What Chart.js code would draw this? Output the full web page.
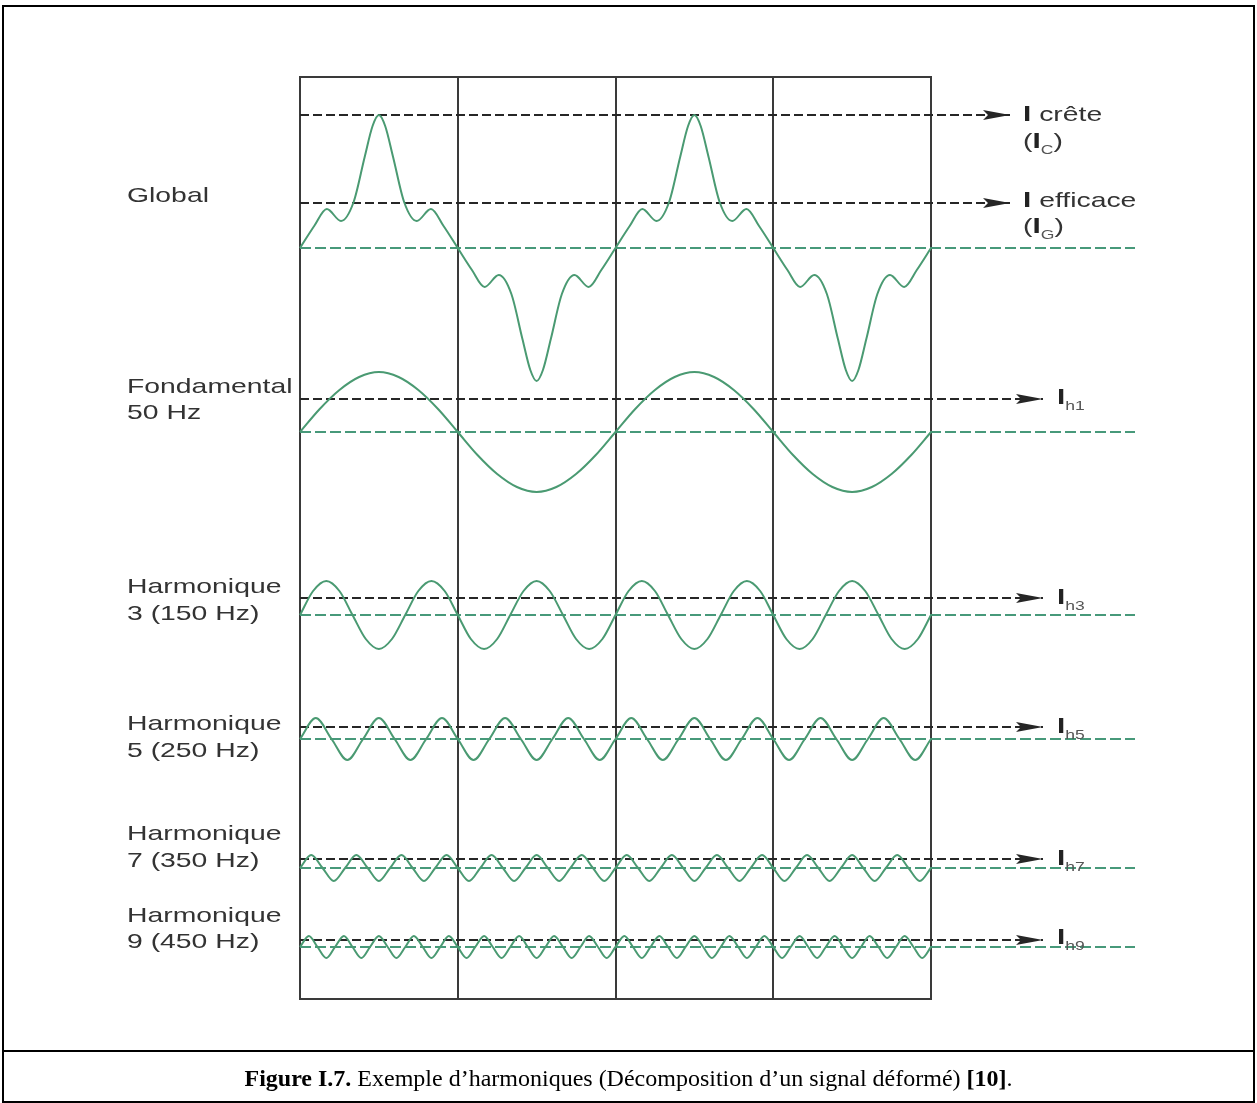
<!DOCTYPE html>
<html lang="fr">
<head>
<meta charset="utf-8">
<title>Figure I.7 – Exemple d’harmoniques</title>
<script src="https://cdn.jsdelivr.net/npm/chart.js@4.4.1/dist/chart.umd.min.js"></script>
<style>
  html, body { margin: 0; padding: 0; background: #fff; }
  #page { position: relative; width: 1257px; height: 1103px; overflow: hidden; }
  #graphique { position: absolute; left: 0; top: 0; }
  .bordure { position: absolute; left: 2px; top: 5px; width: 1253px; height: 1098px; border: 2px solid #000; box-sizing: border-box; }
  .separation { position: absolute; left: 2px; top: 1050px; width: 1253px; height: 2px; background: #000; }
  .etiquette { position: absolute; font-family: "Liberation Sans", Arial, Helvetica, sans-serif; font-size: 21px; line-height: 21px; color: #333; white-space: nowrap; transform: scaleX(1.35); transform-origin: 0 0; }
  .etiquette b { font-size: 22px; color: #222; }
  .etiquette sub { font-size: 13px; vertical-align: -6px; line-height: 0; color: #555; }
  .legende { position: absolute; left: 0; width: 1257px; top: 1066px; text-align: center; font-family: "Liberation Serif", "Times New Roman", serif; font-size: 24px; line-height: 24px; color: #000; }
</style>
</head>
<body>
<div id="page">
  <div class="bordure"></div>
  <div class="separation"></div>
  <canvas id="graphique" width="1257" height="1103"></canvas>

  <div class="etiquette" style="left:127px;top:184px">Global</div>
  <div class="etiquette" style="left:127px;top:375px">Fondamental</div>
  <div class="etiquette" style="left:127px;top:401px">50 Hz</div>
  <div class="etiquette" style="left:127px;top:575px">Harmonique</div>
  <div class="etiquette" style="left:127px;top:602px">3 (150 Hz)</div>
  <div class="etiquette" style="left:127px;top:712px">Harmonique</div>
  <div class="etiquette" style="left:127px;top:739px">5 (250 Hz)</div>
  <div class="etiquette" style="left:127px;top:822px">Harmonique</div>
  <div class="etiquette" style="left:127px;top:849px">7 (350 Hz)</div>
  <div class="etiquette" style="left:127px;top:904px">Harmonique</div>
  <div class="etiquette" style="left:127px;top:930px">9 (450 Hz)</div>

  <div class="etiquette" style="left:1023px;top:103px"><b>I</b> crête</div>
  <div class="etiquette" style="left:1023px;top:130px">(<b>I</b><sub>C</sub>)</div>
  <div class="etiquette" style="left:1023px;top:189px"><b>I</b> efficace</div>
  <div class="etiquette" style="left:1023px;top:215px">(<b>I</b><sub>G</sub>)</div>
  <div class="etiquette" style="left:1057px;top:386px"><b>I</b><sub>h1</sub></div>
  <div class="etiquette" style="left:1057px;top:586px"><b>I</b><sub>h3</sub></div>
  <div class="etiquette" style="left:1057px;top:715px"><b>I</b><sub>h5</sub></div>
  <div class="etiquette" style="left:1057px;top:847px"><b>I</b><sub>h7</sub></div>
  <div class="etiquette" style="left:1057px;top:926px"><b>I</b><sub>h9</sub></div>

  <div class="legende"><b>Figure I.7.</b> Exemple d’harmoniques (Décomposition d’un signal déformé) <b>[10]</b>.</div>
</div>

<script>
// ========================================
// Données lues sur la figure
// temps en ms (une colonne = 10 ms), amplitudes en unités du dessin
// ========================================

const signaux = ["Global", "Fondamental 50 Hz", "Harmonique 3 (150 Hz)", "Harmonique 5 (250 Hz)", "Harmonique 7 (350 Hz)", "Harmonique 9 (450 Hz)"]
const divisionsTemps = [0, 10, 20, 30, 40]

const globalTemps = [
  0, 0.9, 1.7, 2.6, 3.4, 4.1, 4.6, 5, 5.4, 5.9, 6.6, 7.4, 8.3, 9.1,
  10, 10.9, 11.7, 12.6, 13.4, 14.1, 14.6, 15, 15.4, 15.9, 16.6, 17.4, 18.3, 19.1,
  20, 20.9, 21.7, 22.6, 23.4, 24.1, 24.6, 25, 25.4, 25.9, 26.6, 27.4, 28.3, 29.1,
  30, 30.9, 31.7, 32.6, 33.4, 34.1, 34.6, 35, 35.4, 35.9, 36.6, 37.4, 38.3, 39.1,
  40,
]
const globalValeurs = [
  0, 22, 39, 27, 46, 91, 122, 133, 122, 91, 46, 27, 39, 22,
  0, -22, -39, -27, -46, -91, -122, -133, -122, -91, -46, -27, -39, -22,
  0, 22, 39, 27, 46, 91, 122, 133, 122, 91, 46, 27, 39, 22,
  0, -22, -39, -27, -46, -91, -122, -133, -122, -91, -46, -27, -39, -22,
  0,
]

const fondTemps = [
  0, 1.25, 2.5, 3.75, 5, 6.25, 7.5, 8.75,
  10, 11.25, 12.5, 13.75, 15, 16.25, 17.5, 18.75,
  20, 21.25, 22.5, 23.75, 25, 26.25, 27.5, 28.75,
  30, 31.25, 32.5, 33.75, 35, 36.25, 37.5, 38.75,
  40,
]
const fondValeurs = [
  0, 23, 42, 55, 60, 55, 42, 23,
  0, -23, -42, -55, -60, -55, -42, -23,
  0, 23, 42, 55, 60, 55, 42, 23,
  0, -23, -42, -55, -60, -55, -42, -23,
  0,
]

const h3Temps = [
  0, 0.83, 1.67, 2.5, 3.33, 4.17, 5, 5.83, 6.67, 7.5, 8.33, 9.17,
  10, 10.83, 11.67, 12.5, 13.33, 14.17, 15, 15.83, 16.67, 17.5, 18.33, 19.17,
  20, 20.83, 21.67, 22.5, 23.33, 24.17, 25, 25.83, 26.67, 27.5, 28.33, 29.17,
  30, 30.83, 31.67, 32.5, 33.33, 34.17, 35, 35.83, 36.67, 37.5, 38.33, 39.17,
  40,
]
const h3Valeurs = [
  0, 24, 34, 24, 0, -24, -34, -24, 0, 24, 34, 24,
  0, -24, -34, -24, 0, 24, 34, 24, 0, -24, -34, -24,
  0, 24, 34, 24, 0, -24, -34, -24, 0, 24, 34, 24,
  0, -24, -34, -24, 0, 24, 34, 24, 0, -24, -34, -24,
  0,
]

const h5Temps = [
  0, 1, 2, 3, 4, 5, 6, 7, 8, 9,
  10, 11, 12, 13, 14, 15, 16, 17, 18, 19,
  20, 21, 22, 23, 24, 25, 26, 27, 28, 29,
  30, 31, 32, 33, 34, 35, 36, 37, 38, 39,
  40,
]
const h5Valeurs = [
  0, 21, 0, -21, 0, 21, 0, -21, 0, 21,
  0, -21, 0, 21, 0, -21, 0, 21, 0, -21,
  0, 21, 0, -21, 0, 21, 0, -21, 0, 21,
  0, -21, 0, 21, 0, -21, 0, 21, 0, -21,
  0,
]

const h7Temps = [
  0, 0.71, 1.43, 2.14, 2.86, 3.57, 4.29, 5, 5.71, 6.43, 7.14, 7.86, 8.57, 9.29,
  10, 10.71, 11.43, 12.14, 12.86, 13.57, 14.29, 15, 15.71, 16.43, 17.14, 17.86, 18.57, 19.29,
  20, 20.71, 21.43, 22.14, 22.86, 23.57, 24.29, 25, 25.71, 26.43, 27.14, 27.86, 28.57, 29.29,
  30, 30.71, 31.43, 32.14, 32.86, 33.57, 34.29, 35, 35.71, 36.43, 37.14, 37.86, 38.57, 39.29,
  40,
]
const h7Valeurs = [
  0, 13, 0, -13, 0, 13, 0, -13, 0, 13, 0, -13, 0, 13,
  0, -13, 0, 13, 0, -13, 0, 13, 0, -13, 0, 13, 0, -13,
  0, 13, 0, -13, 0, 13, 0, -13, 0, 13, 0, -13, 0, 13,
  0, -13, 0, 13, 0, -13, 0, 13, 0, -13, 0, 13, 0, -13,
  0,
]

const h9Temps = [
  0, 0.56, 1.11, 1.67, 2.22, 2.78, 3.33, 3.89, 4.44,
  5, 5.56, 6.11, 6.67, 7.22, 7.78, 8.33, 8.89, 9.44,
  10, 10.56, 11.11, 11.67, 12.22, 12.78, 13.33, 13.89, 14.44,
  15, 15.56, 16.11, 16.67, 17.22, 17.78, 18.33, 18.89, 19.44,
  20, 20.56, 21.11, 21.67, 22.22, 22.78, 23.33, 23.89, 24.44,
  25, 25.56, 26.11, 26.67, 27.22, 27.78, 28.33, 28.89, 29.44,
  30, 30.56, 31.11, 31.67, 32.22, 32.78, 33.33, 33.89, 34.44,
  35, 35.56, 36.11, 36.67, 37.22, 37.78, 38.33, 38.89, 39.44,
  40,
]
const h9Valeurs = [
  0, 11, 0, -11, 0, 11, 0, -11, 0,
  11, 0, -11, 0, 11, 0, -11, 0, 11,
  0, -11, 0, 11, 0, -11, 0, 11, 0,
  -11, 0, 11, 0, -11, 0, 11, 0, -11,
  0, 11, 0, -11, 0, 11, 0, -11, 0,
  11, 0, -11, 0, 11, 0, -11, 0, 11,
  0, -11, 0, 11, 0, -11, 0, 11, 0,
  -11, 0, 11, 0, -11, 0, 11, 0, -11,
  0,
]

// niveaux des traits pointillés noirs (crête puis valeurs efficaces)
const niveauCrete = 133
const nomsEfficaces = ["I efficace", "Ih1", "Ih3", "Ih5", "Ih7", "Ih9"]
const niveauxEfficaces = [45, 33, 17, 12, 9, 7]

// ========================================
// Mise en page (pixels) et styles
// ========================================

const mise = {
  largeur: 1257,
  hauteur: 1103,
  gaucheCadre: 300,
  droiteCadre: 931,
  hautCadre: 77,
  basCadre: 999,
  droiteGraphique: 1135,
  pointeGlobal: 1010,
  pointeHarmoniques: 1043,
  lignesDeBase: [248, 432, 615, 739, 868, 947],
}

const couleurs = {
  courbe: "#4a9a72",
  base: "#47997a",
  efficace: "#262626",
  cadre: "#3a3a3a",
}

const axes = ["yGlobal", "yH1", "yH3", "yH5", "yH7", "yH9"]
const series = [
  [globalTemps, globalValeurs],
  [fondTemps, fondValeurs],
  [h3Temps, h3Valeurs],
  [h5Temps, h5Valeurs],
  [h7Temps, h7Valeurs],
  [h9Temps, h9Valeurs],
]

const pxParMs = (mise.droiteCadre - mise.gaucheCadre) / divisionsTemps[divisionsTemps.length - 1]
const msDepuisPx = (px) => (px - mise.gaucheCadre) / pxParMs
const xMax = msDepuisPx(mise.droiteGraphique)

function axePanneau(base) {
  return {
    type: "linear",
    display: false,
    min: -(mise.basCadre - base),
    max: base - mise.hautCadre,
  }
}

function trait(label, axe, niveau, fin, couleur, tirets, fleche) {
  return {
    label: label,
    data: [{ x: 0, y: niveau }, { x: fin, y: niveau }],
    yAxisID: axe,
    borderColor: couleur,
    borderWidth: 2,
    borderDash: tirets,
    pointRadius: 0,
    fleche: fleche,
    clip: false,
  }
}

const jeux = []

series.forEach(([temps, valeurs], i) => {
  jeux.push({
    label: signaux[i],
    data: temps.map((t, k) => ({ x: t, y: valeurs[k] })),
    yAxisID: axes[i],
    borderColor: couleurs.courbe,
    borderWidth: 2,
    cubicInterpolationMode: "monotone",
    pointRadius: 0,
    clip: false,
  })
})

jeux.push(trait("I crête", "yGlobal", niveauCrete, msDepuisPx(mise.pointeGlobal), couleurs.efficace, [9, 4], true))
niveauxEfficaces.forEach((niveau, i) => {
  const fin = i === 0 ? msDepuisPx(mise.pointeGlobal) : msDepuisPx(mise.pointeHarmoniques)
  jeux.push(trait(nomsEfficaces[i], axes[i], niveau, fin, couleurs.efficace, [9, 4], true))
})
axes.forEach((axe) => {
  jeux.push(trait("zéro", axe, 0, xMax, couleurs.base, [11, 4], false))
})

// cadre à 4 colonnes (une demi-période du fondamental chacune)
const pluginCadre = {
  id: "cadre",
  beforeDatasetsDraw(chart) {
    const { ctx, chartArea, scales } = chart
    const x = scales.x
    const gauche = x.getPixelForValue(divisionsTemps[0])
    const droite = x.getPixelForValue(divisionsTemps[divisionsTemps.length - 1])
    ctx.save()
    ctx.strokeStyle = couleurs.cadre
    ctx.lineWidth = 2
    ctx.beginPath()
    for (const t of divisionsTemps) {
      const px = Math.round(x.getPixelForValue(t))
      ctx.moveTo(px, chartArea.top)
      ctx.lineTo(px, chartArea.bottom)
    }
    ctx.moveTo(gauche - 1, chartArea.top)
    ctx.lineTo(droite + 1, chartArea.top)
    ctx.moveTo(gauche - 1, chartArea.bottom)
    ctx.lineTo(droite + 1, chartArea.bottom)
    ctx.stroke()
    ctx.restore()
  },
}

// pointes de flèche au bout des pointillés noirs
const pluginFleches = {
  id: "fleches",
  afterDatasetsDraw(chart) {
    const ctx = chart.ctx
    chart.data.datasets.forEach((ds, i) => {
      if (!ds.fleche) return
      const points = chart.getDatasetMeta(i).data
      const fin = points[points.length - 1]
      ctx.save()
      ctx.fillStyle = ds.borderColor
      ctx.beginPath()
      ctx.moveTo(fin.x, fin.y)
      ctx.lineTo(fin.x - 27, fin.y - 5)
      ctx.lineTo(fin.x - 22, fin.y)
      ctx.lineTo(fin.x - 27, fin.y + 5)
      ctx.closePath()
      ctx.fill()
      ctx.restore()
    })
  },
}

const echelles = {
  x: { type: "linear", display: false, min: 0, max: xMax },
}
axes.forEach((axe, i) => {
  echelles[axe] = axePanneau(mise.lignesDeBase[i])
})

new Chart(document.getElementById("graphique"), {
  type: "line",
  data: { datasets: jeux },
  options: {
    responsive: false,
    animation: false,
    events: [],
    layout: {
      padding: {
        left: mise.gaucheCadre,
        right: mise.largeur - mise.droiteGraphique,
        top: mise.hautCadre,
        bottom: mise.hauteur - mise.basCadre,
      },
    },
    plugins: {
      legend: { display: false },
      tooltip: { enabled: false },
    },
    scales: echelles,
  },
  plugins: [pluginCadre, pluginFleches],
})
</script>
</body>
</html>
